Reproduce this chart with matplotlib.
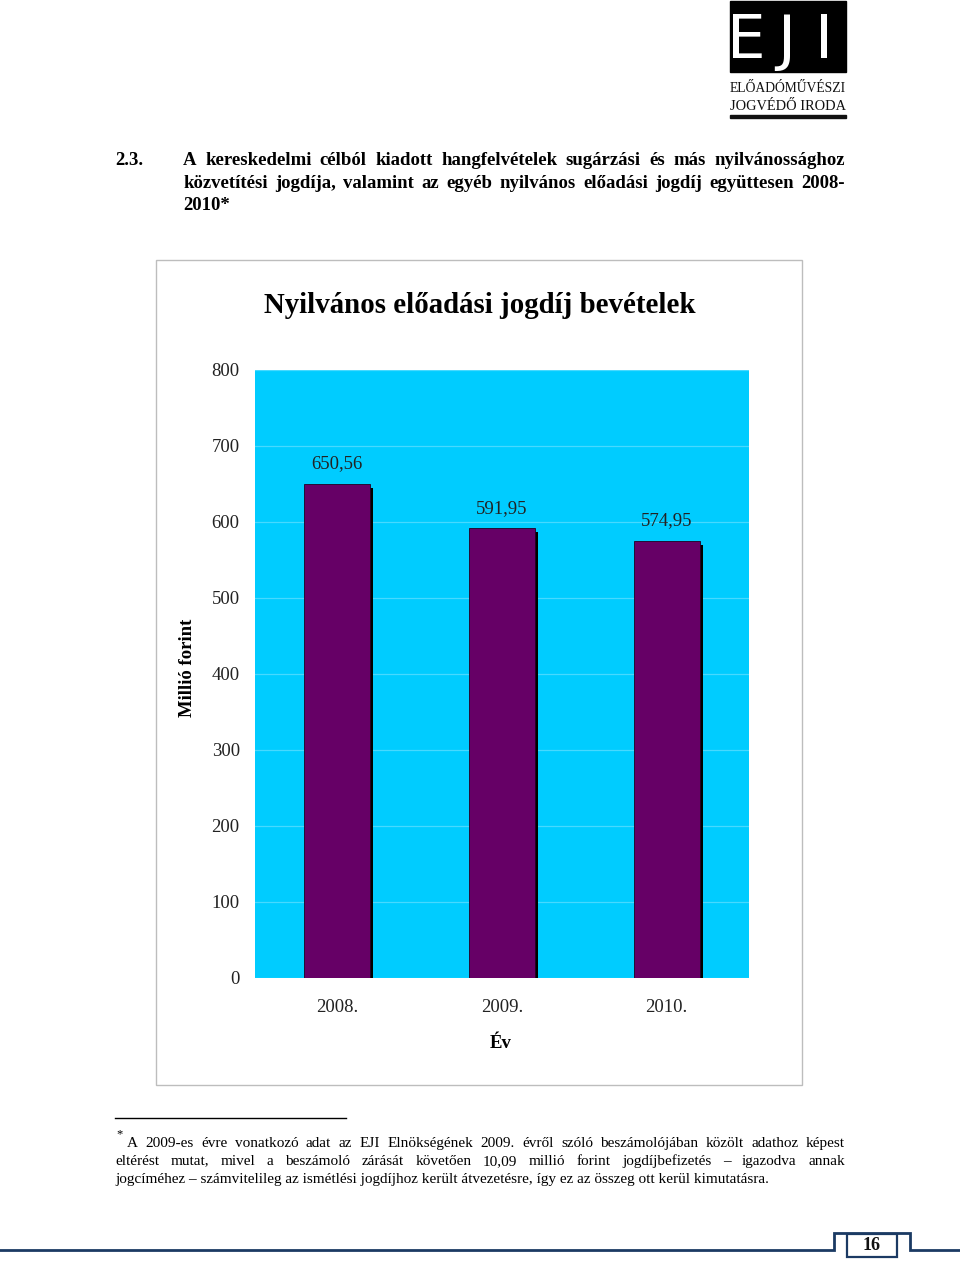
import matplotlib
matplotlib.use("Agg")
import matplotlib.pyplot as plt
from matplotlib.patches import Rectangle

# ── Data ─────────────────────────────────────────────────────────────────────
years  = ["2008.", "2009.", "2010."]
values = [650.56, 591.95, 574.95]
yticks = [0, 100, 200, 300, 400, 500, 600, 700, 800]

chart_title = "Nyilvános előadási jogdíj bevételek"
y_label     = "Millió forint"
x_label     = "Év"

header_lines = [
    "A kereskedelmi célból kiadott hangfelvételek sugárzási és más nyilvánossághoz",
    "közvetítési jogdíja, valamint az egyéb nyilvános előadási jogdíj együttesen 2008-",
    "2010*",
]
footnote_lines = [
    "A 2009-es évre vonatkozó adat az EJI Elnökségének 2009. évről szóló beszámolójában közölt adathoz képest",
    "eltérést mutat, mivel a beszámoló zárását követően 10,09 millió forint jogdíjbefizetés – igazodva annak",
    "jogcíméhez – számvitelileg az ismétlési jogdíjhoz került átvezetésre, így ez az összeg ott kerül kimutatásra.",
]
page_no = "16"

# ── Style ────────────────────────────────────────────────────────────────────
SERIF   = ["Liberation Serif", "DejaVu Serif"]
CYAN    = "#00CCFF"
GRID    = "#47D9FF"
PURPLE  = "#660066"
NAVY    = "#1B3A63"

plt.rcParams.update({"font.family": SERIF})

W, H = 960, 1264
fig = plt.figure(figsize=(W / 100, H / 100), dpi=100)
fig.patch.set_facecolor("white")

def fx(x): return x / W
def fy(y): return 1 - y / H

# ── Chart axes ───────────────────────────────────────────────────────────────
L, R, T, B = 255, 749, 370, 978
ax = fig.add_axes([fx(L), fy(B), (R - L) / W, (B - T) / H])
ax.set_facecolor(CYAN)
ax.set_xlim(-0.5, 2.5)
ax.set_ylim(0, 800)
ax.set_axisbelow(True)
ax.grid(axis="y", color=GRID, linewidth=0.9)
for s in ax.spines.values():
    s.set_visible(False)

xs = list(range(len(years)))
bw = 0.40
px_x = 3.0 / ((R - L) / 3)      # 3 px in category units
px_y = 800 / (B - T)            # 1 px in value units
shadow_vals = [v - 4 * px_y for v in values]
ax.bar([x + px_x for x in xs], shadow_vals, bw, color="black", linewidth=0, zorder=2)
ax.bar(xs, values, bw, color=PURPLE, edgecolor="#220022", linewidth=0.6, zorder=3)

for x, v in zip(xs, values):
    ax.annotate(f"{v:.2f}".replace(".", ","), (x, v), xytext=(0, 20),
                textcoords="offset pixels", ha="center", va="center",
                fontsize=13.5, color="#222222")

ax.set_yticks(yticks)
ax.set_yticklabels([str(t) for t in yticks])
ax.set_xticks(xs)
ax.set_xticklabels(years)
ax.tick_params(axis="y", length=0, pad=11, labelsize=13.5, labelcolor="#222222")
ax.tick_params(axis="x", length=0, pad=15, labelsize=13.5, labelcolor="#222222")

# ── Overlay in page pixel coordinates ────────────────────────────────────────
ov = fig.add_axes([0, 0, 1, 1], zorder=5)
ov.set_xlim(0, W)
ov.set_ylim(H, 0)
ov.axis("off")
ov.patch.set_alpha(0)

renderer = fig.canvas.get_renderer()

def width_of(t):
    return t.get_window_extent(renderer).width

def put_line(line, x0, x1, y, size, weight="normal", justify=True):
    probe = ov.text(0, 0, line, fontsize=size, fontweight=weight)
    w = width_of(probe)
    probe.remove()
    if w > (x1 - x0):
        size *= (x1 - x0) / w * 0.985
    if not justify:
        ov.text(x0, y, line, fontsize=size, fontweight=weight, va="baseline")
        return
    words = line.split()
    texts = [ov.text(0, y, wd, fontsize=size, fontweight=weight, va="baseline")
             for wd in words]
    widths = [width_of(t) for t in texts]
    gap = (x1 - x0 - sum(widths)) / (len(words) - 1)
    x = x0
    for t, wdt in zip(texts, widths):
        t.set_x(x)
        x += wdt + gap

def fit_text(text, xc, y, width, size, **kw):
    t = ov.text(xc, y, text, fontsize=size, ha="center", **kw)
    w = width_of(t)
    t.set_fontsize(size * width / w)
    return t

# chart frame
ov.add_patch(Rectangle((156, 260), 646, 825, fill=False, edgecolor="#BDBDBD", linewidth=1.0))

fit_text(chart_title, 480, 313, 430, 20, fontweight="bold", va="baseline")
ov.text(188, 668, y_label, rotation=90, ha="center", va="center",
        fontsize=13.5, fontweight="bold")
ov.text(501, 1043, x_label, ha="center", va="center", fontsize=13.5, fontweight="bold")

# header
ov.text(115, 165, "2.3.", fontsize=13.5, fontweight="bold", va="baseline")
put_line(header_lines[0], 183, 845, 165, 13.5, "bold")
put_line(header_lines[1], 183, 845, 188, 13.5, "bold")
put_line(header_lines[2], 183, 845, 210, 13.5, "bold", justify=False)

# logo
ov.add_patch(Rectangle((730, 1), 116, 71, color="black"))
for letter, xc in zip(["E", "J", "I"], [746, 786, 824]):
    ov.text(xc, 58, letter, ha="center", va="baseline", color="white",
            fontsize=44, fontweight="normal",
            family=["Liberation Sans Narrow", "DejaVu Sans"])
fit_text("ELŐADÓMŰVÉSZI", 788, 92, 116, 11, va="baseline", color="#111111")
fit_text("JOGVÉDŐ IRODA", 788, 110, 116, 11, va="baseline", color="#111111")
ov.add_patch(Rectangle((730, 115), 116, 3, color="#111111"))

# footnote
ov.plot([115, 346], [1118, 1118], color="black", linewidth=1.0)
ov.text(116, 1137, "*", fontsize=9, va="baseline")
put_line(footnote_lines[0], 127, 845, 1147, 11)
put_line(footnote_lines[1], 115, 845, 1165, 11)
put_line(footnote_lines[2], 115, 845, 1183, 11, justify=False)

# footer
ov.plot([0, 834, 834, 910, 910, 960], [1250, 1250, 1233, 1233, 1250, 1250],
        color=NAVY, linewidth=2.0, solid_joinstyle="miter")
ov.add_patch(Rectangle((847, 1234), 50, 23, fill=True, facecolor="white",
                       edgecolor=NAVY, linewidth=1.6))
ov.text(872, 1246, page_no, ha="center", va="center", fontsize=13,
        fontweight="bold", color="#111111")

fig.savefig("out.png", dpi=100, facecolor="white")
